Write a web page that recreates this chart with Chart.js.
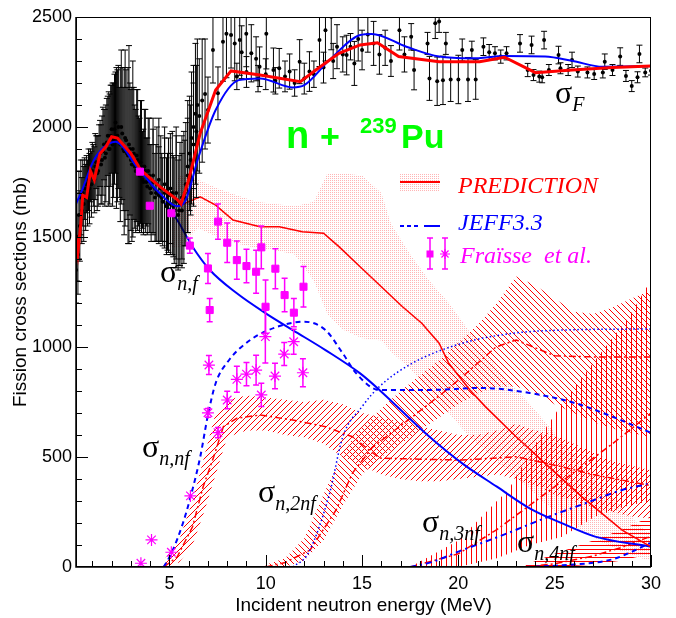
<!DOCTYPE html>
<html>
<head>
<meta charset="utf-8">
<title>Fission cross sections n + 239Pu</title>
<script src="https://cdn.jsdelivr.net/npm/chart.js@4.4.1/dist/chart.umd.min.js"></script>
<style>
  html, body { margin: 0; padding: 0; background: #fff; }
  #chart { display: block; }
</style>
</head>
<body>
<canvas id="chart" width="676" height="618"></canvas>
<script>
// Axis ticks
const X_TICKS = [5, 10, 15, 20, 25, 30];
const Y_TICKS = [0, 500, 1000, 1500, 2000, 2500];

// Measured total fission cross section (sigma_F), energy in MeV, value and error in mb
const expE = [0.15, 0.2, 0.25, 0.3, 0.35, 0.4, 0.45, 0.5, 0.55, 0.6, 0.65, 0.7, 0.75, 0.8, 0.85, 0.9, 0.95, 1.0,
  1.1, 1.2, 1.3, 1.4, 1.5, 1.6, 1.7, 1.8, 1.9, 2.0, 2.1, 2.2, 2.3, 2.4, 2.5, 2.6, 2.7, 2.8, 2.9, 3.0,
  3.1, 3.2, 3.3, 3.4, 3.5, 3.6, 3.7, 3.8, 3.9, 4.0, 4.15, 4.3, 4.45, 4.6, 4.75, 4.9, 5.05, 5.2, 5.35,
  5.5, 5.65, 5.8, 5.95, 6.1, 6.25, 6.4, 6.55, 6.7, 6.85, 7.0, 7.26, 7.52, 7.78, 7.96, 8.2, 8.39, 8.5,
  8.65, 8.75, 8.99, 9.0, 9.25, 9.5, 9.6, 9.68, 10.0, 10.03, 10.4, 10.5, 10.7, 11.0, 11.24, 11.5, 11.76,
  12.0, 12.27, 12.5, 12.79, 13.0, 13.1, 13.4, 13.5, 13.7, 14.0, 14.2, 14.4, 14.6, 14.8, 15.0, 15.3,
  15.6, 15.9, 16.2, 16.5, 16.94, 17.2, 17.55, 17.7, 18.4, 18.5, 18.8, 18.9, 19.0, 19.2, 19.35, 19.6,
  20.0, 20.2, 20.5, 20.7, 20.9, 21.3, 21.6, 21.9, 22.2, 22.5, 23.2, 23.6, 23.8, 23.9, 24.2, 24.35,
  24.45, 24.7, 25.2, 25.3, 25.7, 25.9, 26.2, 26.7, 27.05, 27.5, 27.6, 28.0, 28.4, 28.7, 29.0, 29.3,
  29.4, 29.7, 30.0];
const expSig = [1350, 1500, 1420, 1600, 1550, 1680, 1620, 1700, 1650, 1720, 1680, 1740, 1700, 1760, 1720, 1780, 1740, 1800,
  1760, 1840, 1800, 1880, 1850, 1920, 1880, 1960, 1900, 1990, 1940, 2020, 1960, 1930, 2000, 1900, 1950, 1880, 1920, 1850,
  1900, 1820, 1870, 1800, 1840, 1760, 1820, 1750, 1800, 1720, 1780, 1700, 1760, 1680, 1740, 1660, 1720, 1640, 1700,
  1620, 1680, 1700, 1780, 1850, 1920, 1980, 2050, 2120, 2150, 2077, 2350, 2153, 2388, 2424, 2418, 2380, 2230,
  2395, 2340, 2424, 2250, 2335, 2310, 2220, 2274, 2240, 2424, 2259, 2210, 2267, 2230, 2252, 2200, 2297,
  2220, 2252, 2240, 2395, 2270, 2440, 2501, 2300, 2365, 2330, 2327, 2365, 2289, 2400, 2350, 2420,
  2380, 2330, 2360, 2300, 2440, 2330, 2410, 2259, 2380, 2221, 2472, 2208, 2480, 2212, 2380, 2216,
  2216, 2350, 2216, 2350, 2216, 2365, 2340, 2335, 2320, 2335, 2380, 2259, 2373, 2236, 2229, 2226,
  2395, 2259, 2327, 2267, 2259, 2305, 2252, 2248, 2241, 2248, 2297, 2259, 2320, 2232, 2186, 2226,
  2332, 2248, 2256];
const expErr = [150, 200, 180, 200, 160, 170, 150, 150, 170, 140, 150, 130, 150, 140, 160, 120, 150, 130,
  150, 120, 160, 150, 200, 160, 220, 180, 250, 200, 260, 230, 300, 250, 350, 280, 400, 300, 450, 320,
  400, 280, 300, 250, 280, 220, 260, 200, 240, 200, 260, 220, 280, 200, 260, 220, 250, 230, 300,
  250, 280, 240, 260, 250, 280, 300, 260, 280, 250, 150, 150, 120, 180, 200, 150, 170, 60,
  160, 120, 150, 70, 130, 100, 60, 90, 70, 160, 100, 60, 90, 70, 80, 60, 100,
  70, 90, 60, 120, 70, 140, 150, 80, 100, 80, 90, 60, 100, 100, 90, 80,
  100, 90, 80, 70, 90, 80, 60, 90, 50, 100, 70, 110, 50, 110, 50, 100,
  110, 50, 100, 40, 90, 40, 35, 30, 30, 30, 40, 30, 40, 25, 25, 25,
  40, 25, 40, 25, 25, 35, 25, 25, 25, 25, 35, 25, 40, 25, 25, 25,
  40, 20, 20];

// Second, denser run below 6.5 MeV
const expE2 = [1.05, 1.15, 1.25, 1.35, 1.45, 1.55, 1.65, 1.75, 1.85, 1.95, 2.05, 2.15, 2.25, 2.35, 2.45, 2.55, 2.65, 2.75, 2.85, 2.95,
  3.05, 3.15, 3.25, 3.35, 3.45, 3.55, 3.65, 3.75, 3.85, 3.95, 4.05, 4.15, 4.25, 4.35, 4.45, 4.55, 4.65, 4.75, 4.85, 4.95,
  5.05, 5.15, 5.25, 5.35, 5.45, 5.55, 5.65, 5.75, 5.85, 5.95, 6.05, 6.15, 6.25, 6.35, 6.45];
const expSig2 = [1780, 1820, 1790, 1850, 1830, 1890, 1860, 1930, 1900, 1960, 1920, 1990, 1950, 2000, 1920, 1970, 1890, 1940, 1870, 1900,
  1830, 1880, 1800, 1850, 1780, 1820, 1750, 1800, 1730, 1780, 1700, 1750, 1680, 1740, 1690, 1720, 1660, 1700, 1640, 1690,
  1650, 1700, 1620, 1660, 1600, 1650, 1620, 1680, 1740, 1820, 1880, 1950, 2000, 2060, 2100];
const expErr2 = [140, 150, 170, 160, 180, 200, 220, 200, 260, 230, 280, 250, 320, 280, 350, 300, 380, 320, 400, 300,
  350, 300, 280, 320, 260, 300, 240, 280, 220, 260, 220, 240, 200, 260, 220, 240, 200, 250, 220, 260,
  230, 280, 240, 300, 250, 280, 260, 300, 280, 300, 260, 300, 280, 320, 300];

// Total fission: prediction and JEFF3.3
const predFE = [0.15, 0.25, 0.4, 0.5, 0.7, 0.9, 1.1, 1.4, 1.7, 2.0, 2.3, 3.0, 3.5, 4.5, 5.4, 5.6, 6.0, 6.6, 7.4, 8.2, 9.7, 11.8, 12.6, 13.8, 14.9, 15.8, 16.9, 19.0, 21.1, 22.4, 24.0, 25.9, 28.0, 30];
const predF = [1500, 1430, 1560, 1690, 1680, 1800, 1760, 1880, 1910, 1956, 1950, 1880, 1805, 1729, 1670, 1650, 1760, 1972, 2168, 2255, 2236, 2206, 2259, 2335, 2373, 2383, 2320, 2297, 2297, 2317, 2247, 2259, 2270, 2277];
const jeffFE = [0.15, 0.5, 1.0, 1.5, 2.2, 3.3, 4.5, 5.4, 5.8, 6.5, 7.4, 8.6, 9.7, 11.4, 12.0, 13.3, 14.9, 15.5, 17.3, 19.0, 20.7, 22.4, 24.5, 25.9, 27.5, 30];
const jeffF = [1650, 1720, 1836, 1900, 1933, 1820, 1699, 1640, 1660, 1860, 2077, 2213, 2221, 2180, 2190, 2304, 2418, 2423, 2365, 2320, 2312, 2323, 2320, 2301, 2274, 2277];

// First-chance fission (n,f)
const nfPredE = [5.4, 6.6, 7.4, 8.3, 9.7, 10.7, 11.9, 13.0, 13.8, 14.9, 17.1, 18.1, 19.0, 19.5, 20.6, 21.4, 23.0, 24.5, 26.4, 28.5, 30];
const nfPred = [1638, 1683, 1645, 1577, 1547, 1547, 1524, 1517, 1456, 1365, 1183, 1108, 1017, 926, 805, 729, 592, 471, 320, 168, 92];
const nfBandE = [4.9, 5.5, 6.5, 7.5, 8.5, 9.5, 10.5, 11.5, 12.5, 13.2, 14, 15, 16, 16.5, 17.5, 18.5, 19.5, 20.5, 21.5, 22.5, 23.5, 24.5, 25.5, 26.5, 27.5, 28.5, 29.5, 30];
const nfBandUp = [1640, 1780, 1760, 1720, 1690, 1660, 1650, 1640, 1660, 1790, 1790, 1780, 1700, 1560, 1420, 1300, 1200, 1080, 960, 850, 760, 660, 560, 460, 360, 270, 180, 150];
const nfBandLow = [1450, 1450, 1540, 1500, 1470, 1450, 1440, 1420, 1300, 1150, 1080, 1040, 1030, 980, 900, 800, 700, 600, 520, 440, 370, 290, 220, 160, 110, 70, 40, 30];
const nfJeffE = [3.5, 4.5, 5.4, 6.2, 7.1, 8.5, 10.0, 11.4, 13.1, 14.9, 15.9, 18.5, 20.2, 22.0, 23.7, 25.4, 27.1, 30];
const nfJeff = [1805, 1683, 1577, 1456, 1350, 1244, 1153, 1077, 986, 880, 805, 592, 471, 365, 267, 198, 138, 92];

// Second-chance fission (n,nf)
const nnfPredE = [4.7, 5.4, 6.2, 6.75, 7.3, 7.8, 8.5, 9.7, 11.4, 13.1, 14.5, 15.9, 18, 20.2, 23.0, 25.4, 27, 30];
const nnfPred = [0, 45, 183, 365, 501, 638, 676, 691, 668, 638, 592, 495, 490, 486, 501, 455, 420, 370];
const nnfBandE = [4.7, 5.5, 6.2, 6.8, 7.4, 8.0, 9, 10, 11, 12, 13, 14, 15, 16, 17, 18, 19, 20, 21, 22, 23, 24, 25, 26, 27, 28, 29, 30];
const nnfBandUp = [30, 120, 300, 500, 700, 760, 780, 770, 760, 750, 760, 740, 700, 680, 660, 640, 620, 600, 600, 620, 650, 620, 600, 560, 520, 480, 460, 440];
const nnfBandLow = [0, 20, 100, 250, 420, 590, 620, 620, 600, 590, 560, 500, 460, 420, 400, 390, 390, 400, 410, 420, 400, 370, 330, 300, 270, 250, 230, 220];
const nnfJeffE = [4.7, 5.1, 5.7, 6.1, 6.6, 7.0, 7.4, 8.1, 9.2, 10.6, 12.0, 13.1, 14.0, 14.7, 15.9, 18.5, 21.1, 23.7, 26.1, 28.0, 30];
const nnfJeff = [0, 62, 199, 320, 501, 691, 835, 941, 1032, 1092, 1115, 1077, 971, 880, 805, 805, 814, 791, 744, 683, 610];

// Third-chance fission (n,2nf)
const n2nfPredE = [10, 11, 12.3, 13.65, 14.5, 15.55, 17.6, 19.4, 20.6, 21.95, 23.0, 25, 27, 30];
const n2nfPred = [0, 20, 77, 259, 427, 545, 682, 805, 895, 1000, 1032, 960, 955, 955];
const n2nfBandE = [10, 11, 12, 13, 14, 15, 16, 17, 18, 19, 20, 21, 22, 23, 24, 25, 26, 27, 28, 29, 30];
const n2nfBandUp = [10, 40, 130, 330, 520, 640, 720, 800, 870, 940, 1020, 1100, 1200, 1320, 1280, 1220, 1160, 1150, 1180, 1220, 1260];
const n2nfBandLow = [0, 0, 30, 120, 280, 420, 500, 560, 620, 680, 740, 790, 820, 820, 790, 740, 700, 660, 630, 610, 590];
const n2nfJeffE = [11.4, 12.2, 13.3, 14.0, 15.0, 15.9, 17.6, 20.2, 22.8, 25.4, 30];
const n2nfJeff = [0, 62, 330, 592, 729, 820, 926, 1017, 1062, 1077, 1082];

// Fourth-chance fission (n,3nf)
const n3nfPredE = [17.5, 20, 22, 24, 26, 28, 30];
const n3nfPred = [0, 60, 170, 300, 430, 560, 700];
const n3nfBandE = [17.5, 20, 22, 22.6, 23.7, 25.4, 27.1, 28.85, 30];
const n3nfBandUp = [0, 120, 300, 350, 520, 745, 940, 1136, 1305];
const n3nfBandLow = [0, 0, 40, 60, 100, 138, 229, 280, 300];
const n3nfJeffE = [17.5, 18.65, 20, 22.1, 24.7, 26.6, 28.5, 30];
const n3nfJeff = [0, 23, 70, 138, 229, 290, 350, 380];

// Fifth-chance fission (n,4nf)
const n4nfPredE = [23.5, 25, 27, 28.5, 30];
const n4nfPred = [0, 15, 50, 90, 140];
const n4nfBandUp = [10, 60, 120, 170, 230];
const n4nfBandLow = [0, 0, 10, 30, 60];
const n4nfJeffE = [23.5, 25.4, 28, 30];
const n4nfJeff = [0, 8, 35, 110];

// Fraisse et al. data: (n,f) squares and (n,nf) asterisks
const frNfE = [3.47, 3.98, 5.1, 6.06, 7.0, 7.09, 7.52, 8.0, 8.5, 9.0, 9.5, 9.77, 9.99, 10.5, 10.98, 11.46, 11.96];
const frNf = [1797, 1642, 1608, 1461, 1357, 1168, 1570, 1474, 1395, 1368, 1342, 1453, 1183, 1356, 1236, 1156, 1274];
const frNfErr = [0, 0, 0, 35, 68, 53, 80, 90, 87, 76, 98, 97, 121, 91, 76, 64, 92];
const frNnfE = [3.52, 4.07, 5.1, 6.09, 7.0, 7.05, 7.52, 8.0, 8.5, 9.0, 9.5, 9.77, 9.98, 10.48, 10.96, 11.45, 11.93];
const frNnf = [17, 123, 67, 323, 701, 918, 611, 759, 853, 877, 895, 782, 1047, 868, 968, 1024, 883];
const frNnfErr = [0, 0, 0, 0, 20, 43, 23, 40, 59, 53, 68, 53, 120, 58, 52, 57, 64];

const RED = '#ff0000';
const BLUE = '#0000ff';
const MAGENTA = '#ff00ff';

const pts = (xs, ys) => xs.map((x, i) => ({ x: x, y: ys[i] }));

// Stipple used for the (n,f) band and its legend entry
function makeDots() {
    const c = document.createElement('canvas');
    c.width = 2;
    c.height = 2;
    const g = c.getContext('2d');
    g.fillStyle = 'rgba(255,70,70,0.4)';
    g.fillRect(0, 0, 1, 1);
    return g.createPattern(c, 'repeat');
}
const dotFill = makeDots();

// Uncertainty bands: energies, upper and lower edges, fill style
const bands = [
    { e: nfBandE, up: nfBandUp, low: nfBandLow, hatch: 'dots' },
    { e: nnfBandE, up: nnfBandUp, low: nnfBandLow, hatch: '/', step: 6 },
    { e: n2nfBandE, up: n2nfBandUp, low: n2nfBandLow, hatch: '\\', step: 6 },
    { e: n3nfBandE, up: n3nfBandUp, low: n3nfBandLow, hatch: '|', step: 5 },
    { e: n4nfPredE, up: n4nfBandUp, low: n4nfBandLow, hatch: '-', step: 4 }
];

function lineSet(xs, ys, color, width, dash, order, smooth) {
    return {
        data: pts(xs, ys),
        borderColor: color,
        borderWidth: width,
        borderDash: dash,
        pointRadius: 0,
        fill: false,
        order: order,
        tension: 0,
        cubicInterpolationMode: smooth ? 'monotone' : 'default'
    };
}

function expSet(xs, ys, errs) {
    return { data: pts(xs, ys), errors: errs, errorColor: '#000', errorWidth: 1, cap: 3,
             showLine: false, pointStyle: 'circle', pointRadius: 2, backgroundColor: '#000',
             borderColor: '#000', borderWidth: 0, order: 2 };
}

const PRED_DASH = [7, 3, 2, 3];

const datasets = [
    { data: pts(frNfE, frNf), errors: frNfErr, errorColor: MAGENTA, errorWidth: 1.5, cap: 3,
      showLine: false, pointStyle: 'rect', pointRadius: 5, backgroundColor: MAGENTA, borderColor: MAGENTA, order: 0 },
    { data: pts(frNnfE, frNnf), errors: frNnfErr, errorColor: MAGENTA, errorWidth: 1.5, cap: 3,
      showLine: false, pointStyle: 'star', pointRadius: 6, borderWidth: 1.2, borderColor: MAGENTA, order: 0 },
    lineSet(predFE, predF, RED, 3, [], 1, false),
    lineSet(jeffFE, jeffF, BLUE, 2, [], 1.5, true),
    expSet(expE, expSig, expErr),
    expSet(expE2, expSig2, expErr2),
    lineSet(nfPredE, nfPred, RED, 1.5, [], 5, false),
    lineSet(nfJeffE, nfJeff, BLUE, 2, [], 5, true),
    lineSet(nnfJeffE, nnfJeff, BLUE, 2, [5, 4], 5, true),
    lineSet(nnfPredE, nnfPred, RED, 1.5, PRED_DASH, 5, false),
    lineSet(n2nfJeffE, n2nfJeff, BLUE, 1.5, [1.5, 2.5], 5, true),
    lineSet(n2nfPredE, n2nfPred, RED, 1.5, PRED_DASH, 5, false),
    lineSet(n3nfJeffE, n3nfJeff, BLUE, 2, [6, 4, 2, 4], 5, true),
    lineSet(n3nfPredE, n3nfPred, RED, 1.5, PRED_DASH, 5, false),
    lineSet(n4nfJeffE, n4nfJeff, BLUE, 2, [5, 4], 5, true),
    lineSet(n4nfPredE, n4nfPred, RED, 1.5, PRED_DASH, 5, false)
];

// Hatched / stippled bands, clipped to the polygon between the two edges.
// Diagonal hatch lines run through pixel centres with an even offset so they stay crisp.
const bandFill = {
    id: 'bandFill',
    beforeDatasetsDraw(chart) {
        const { ctx, chartArea: a, scales: { x, y } } = chart;
        const L = Math.round(a.left), R = Math.round(a.right), T = Math.round(a.top), B = Math.round(a.bottom);
        bands.forEach(b => {
            ctx.save();
            ctx.beginPath();
            ctx.rect(L, T, R - L, B - T);
            ctx.clip();
            ctx.beginPath();
            b.e.forEach((e, i) => {
                const px = x.getPixelForValue(e), py = y.getPixelForValue(b.up[i]);
                if (i === 0) ctx.moveTo(px, py); else ctx.lineTo(px, py);
            });
            for (let i = b.e.length - 1; i >= 0; i--) {
                ctx.lineTo(x.getPixelForValue(b.e[i]), y.getPixelForValue(b.low[i]));
            }
            ctx.closePath();
            if (b.hatch === 'dots') {
                ctx.fillStyle = dotFill;
                ctx.fill();
                ctx.restore();
                return;
            }
            ctx.clip();
            ctx.strokeStyle = RED;
            ctx.lineWidth = 1;
            ctx.beginPath();
            const s = b.step;
            if (b.hatch === '/') {
                let c0 = L + T;
                if (c0 % 2 === 0) c0 += 1;
                for (let c = c0; c <= R + B; c += s) {
                    ctx.moveTo(c - B, B); ctx.lineTo(c - T, T);
                }
            } else if (b.hatch === '\\') {
                let c0 = L - B;
                if (Math.abs(c0) % 2 === 1) c0 -= 1;
                for (let c = c0; c <= R - T; c += s) {
                    ctx.moveTo(c + T, T); ctx.lineTo(c + B, B);
                }
            } else if (b.hatch === '|') {
                for (let c = L + 0.5; c <= R; c += s) {
                    ctx.moveTo(c, T); ctx.lineTo(c, B);
                }
            } else {
                for (let c = T + 0.5; c <= B; c += s) {
                    ctx.moveTo(L, c); ctx.lineTo(R, c);
                }
            }
            ctx.stroke();
            ctx.restore();
        });
    }
};

// Vertical error bars, drawn just under their own markers
const errorBars = {
    id: 'errorBars',
    beforeDatasetDraw(chart, args) {
        const ds = chart.data.datasets[args.index];
        if (!ds.errors) return;
        const { ctx, chartArea: a, scales: { x, y } } = chart;
        ctx.save();
        ctx.beginPath();
        ctx.rect(a.left, a.top, a.right - a.left, a.bottom - a.top);
        ctx.clip();
        ctx.strokeStyle = ds.errorColor;
        ctx.lineWidth = ds.errorWidth;
        ctx.beginPath();
        ds.data.forEach((p, i) => {
            const e = ds.errors[i];
            if (!e) return;
            const px = x.getPixelForValue(p.x);
            const y1 = y.getPixelForValue(p.y - e);
            const y2 = y.getPixelForValue(p.y + e);
            ctx.moveTo(px, y1); ctx.lineTo(px, y2);
            ctx.moveTo(px - ds.cap, y1); ctx.lineTo(px + ds.cap, y1);
            ctx.moveTo(px - ds.cap, y2); ctx.lineTo(px + ds.cap, y2);
        });
        ctx.stroke();
        ctx.restore();
    }
};

function drawSigma(ctx, x, y, sub) {
    ctx.font = '32px "Liberation Serif"';
    ctx.fillText('σ', x, y);
    const w = ctx.measureText('σ').width;
    ctx.font = 'italic 20px "Liberation Serif"';
    ctx.fillText(sub, x + w, y + 8);
}

// Frame, minor ticks, axis titles, labels and legend
const decorations = {
    id: 'decorations',
    afterDraw(chart) {
        const { ctx, chartArea: a, scales: { x, y } } = chart;
        ctx.save();
        ctx.strokeStyle = '#000';
        ctx.lineWidth = 1;
        ctx.strokeRect(a.left + 0.5, a.top + 0.5, a.right - a.left - 1, a.bottom - a.top - 1);
        ctx.lineWidth = 1.5;
        ctx.beginPath();
        ctx.moveTo(a.left, a.top); ctx.lineTo(a.left, a.bottom); ctx.lineTo(a.right, a.bottom);
        ctx.stroke();
        ctx.lineWidth = 1;
        ctx.beginPath();
        for (let e = 1; e <= 30; e++) {
            const px = Math.round(x.getPixelForValue(e)) + 0.5;
            ctx.moveTo(px, a.bottom);
            ctx.lineTo(px, a.bottom - (e % 5 ? 6 : 12));
        }
        for (let v = 100; v <= 2500; v += 100) {
            const py = Math.round(y.getPixelForValue(v)) + 0.5;
            ctx.moveTo(a.left, py);
            ctx.lineTo(a.left + (v % 500 ? 6 : 12), py);
        }
        ctx.stroke();

        // axis titles
        ctx.fillStyle = '#000';
        ctx.font = '19px "Liberation Sans"';
        ctx.textAlign = 'center';
        ctx.textBaseline = 'middle';
        ctx.fillText('Incident neutron energy (MeV)', (a.left + a.right) / 2, 606);
        ctx.save();
        ctx.translate(21, (a.top + a.bottom) / 2);
        ctx.rotate(-Math.PI / 2);
        ctx.fillText('Fission cross sections (mb)', 0, 0);
        ctx.restore();

        ctx.textAlign = 'left';
        ctx.textBaseline = 'alphabetic';

        // reaction label
        ctx.fillStyle = '#00ff00';
        ctx.font = 'bold 38px "Liberation Sans"';
        ctx.fillText('n', 286, 148);
        ctx.font = 'bold 34px "Liberation Sans"';
        ctx.fillText('+', 320, 148);
        ctx.font = 'bold 22px "Liberation Sans"';
        ctx.fillText('239', 360, 133);
        ctx.font = 'bold 34px "Liberation Sans"';
        ctx.fillText('Pu', 401, 148);

        // cross section labels
        ctx.fillStyle = '#000';
        drawSigma(ctx, 555, 103, 'F');
        drawSigma(ctx, 160, 282, 'n,f');
        drawSigma(ctx, 142, 457, 'n,nf');
        drawSigma(ctx, 258, 502, 'n,2nf');
        drawSigma(ctx, 422, 532, 'n,3nf');
        drawSigma(ctx, 517, 552, 'n,4nf');

        // legend
        ctx.fillStyle = dotFill;
        ctx.fillRect(400, 173, 40, 19);
        ctx.strokeStyle = RED;
        ctx.lineWidth = 2;
        ctx.beginPath();
        ctx.moveTo(400, 182); ctx.lineTo(440, 182);
        ctx.stroke();

        ctx.strokeStyle = BLUE;
        ctx.setLineDash([4, 3]);
        ctx.beginPath();
        ctx.moveTo(400, 226); ctx.lineTo(420, 226);
        ctx.stroke();
        ctx.setLineDash([]);
        ctx.beginPath();
        ctx.moveTo(424, 226); ctx.lineTo(440, 226);
        ctx.stroke();

        ctx.strokeStyle = MAGENTA;
        ctx.fillStyle = MAGENTA;
        ctx.lineWidth = 1.5;
        ctx.beginPath();
        [430, 445].forEach(px => {
            ctx.moveTo(px, 238); ctx.lineTo(px, 269);
            ctx.moveTo(px - 3, 238); ctx.lineTo(px + 3, 238);
            ctx.moveTo(px - 3, 269); ctx.lineTo(px + 3, 269);
        });
        ctx.stroke();
        ctx.fillRect(426.5, 250.5, 7, 7);
        ctx.lineWidth = 1.2;
        ctx.beginPath();
        for (let k = 0; k < 4; k++) {
            const ang = k * Math.PI / 4;
            ctx.moveTo(445 - 5 * Math.cos(ang), 254 - 5 * Math.sin(ang));
            ctx.lineTo(445 + 5 * Math.cos(ang), 254 + 5 * Math.sin(ang));
        }
        ctx.stroke();

        ctx.font = 'italic 24px "Liberation Serif"';
        ctx.fillStyle = RED;
        ctx.fillText('PREDICTION', 458, 193);
        ctx.fillStyle = BLUE;
        ctx.fillText('JEFF3.3', 458, 230);
        ctx.fillStyle = MAGENTA;
        ctx.fillText('Fraïsse  et al.', 460, 263);
        ctx.restore();
    }
};

new Chart(document.getElementById('chart'), {
    type: 'line',
    data: { datasets: datasets },
    plugins: [bandFill, errorBars, decorations],
    options: {
        responsive: false,
        animation: false,
        events: [],
        layout: { padding: { top: 17, right: 25, left: 0, bottom: 0 } },
        plugins: {
            legend: { display: false },
            tooltip: { enabled: false }
        },
        scales: {
            x: {
                type: 'linear',
                min: 0.15,
                max: 30,
                afterBuildTicks: s => { s.ticks = X_TICKS.map(v => ({ value: v })); },
                afterFit: s => { s.height = 51; },
                grid: { display: false, drawTicks: false },
                border: { display: false },
                ticks: { color: '#000', font: { family: 'Liberation Sans', size: 18 }, padding: 6,
                         maxRotation: 0, autoSkip: false, callback: v => String(v) }
            },
            y: {
                type: 'linear',
                min: 0,
                max: 2500,
                afterBuildTicks: s => { s.ticks = Y_TICKS.map(v => ({ value: v })); },
                afterFit: s => { s.width = 76; },
                grid: { display: false, drawTicks: false },
                border: { display: false },
                ticks: { color: '#000', font: { family: 'Liberation Sans', size: 18 }, padding: 4,
                         autoSkip: false, callback: v => String(v) }
            }
        }
    }
});
</script>
</body>
</html>
